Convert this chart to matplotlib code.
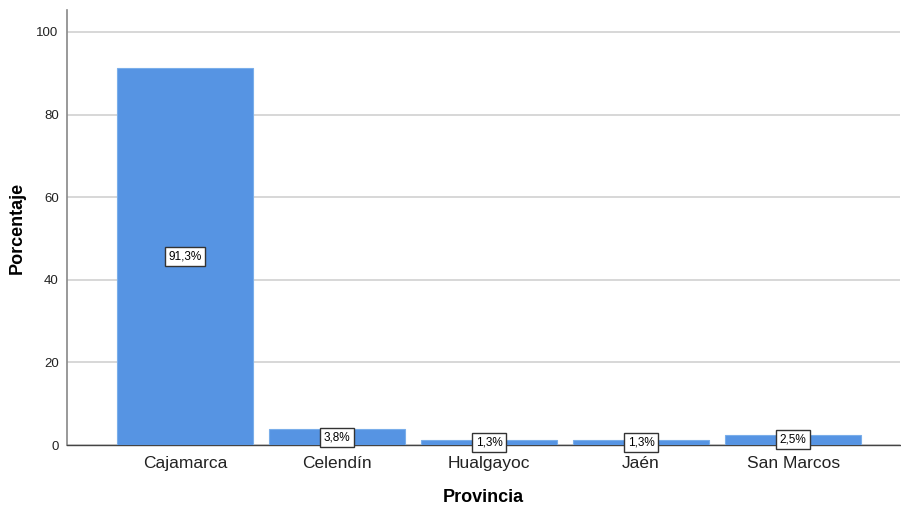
import matplotlib
matplotlib.use("Agg")
import matplotlib.pyplot as plt
import numpy as np

plt.rcParams['font.family'] = ['Liberation Sans', 'DejaVu Sans']

provincias = ['Cajamarca', 'Celendín', 'Hualgayoc', 'Jaén', 'San Marcos']
porcentajes = [91.3, 3.8, 1.3, 1.3, 2.5]
etiquetas = ['91,3%', '3,8%', '1,3%', '1,3%', '2,5%']
yticks = [0, 20, 40, 60, 80, 100]

fig = plt.figure(figsize=(9.01, 5.09), dpi=100)
ax = fig.add_axes([0.0744, 0.1257, 0.9246, 0.8547])

x = np.arange(len(provincias))
bars = ax.bar(x, porcentajes, width=0.895, color='#5694e3', edgecolor='#7aaeea',
              linewidth=0.8, zorder=3)

for b, lab in zip(bars, etiquetas):
    ax.text(b.get_x() + b.get_width() / 2, b.get_height() / 2, lab,
            ha='center', va='center', fontsize=8.5, color='black', zorder=4,
            bbox=dict(boxstyle='square,pad=0.3', fc='white', ec='#333333', lw=1.0))

ax.set_xlim(-0.776, 4.704)
ax.set_ylim(0, 105.3)
ax.set_xticks(x)
ax.set_xticklabels(provincias, fontsize=12.5, color='#222222')
ax.set_yticks(yticks)
ax.set_yticklabels([str(v) for v in yticks], fontsize=9.5, color='#222222')
ax.tick_params(axis='both', length=0)
ax.tick_params(axis='x', pad=8)
ax.tick_params(axis='y', pad=6)

ax.yaxis.grid(True, color='#d4d4d4', linewidth=1.3, zorder=0)
ax.set_axisbelow(True)
for s in ['top', 'right']:
    ax.spines[s].set_visible(False)
ax.spines['left'].set_color('#888888')
ax.spines['left'].set_linewidth(1.2)
ax.spines['bottom'].set_color('#444444')
ax.spines['bottom'].set_linewidth(1.0)

ax.set_xlabel('Provincia', fontsize=13, fontweight='bold', labelpad=13)
ax.set_ylabel('Porcentaje', fontsize=13, fontweight='bold', labelpad=8)

fig.savefig('out.png', dpi=100)
